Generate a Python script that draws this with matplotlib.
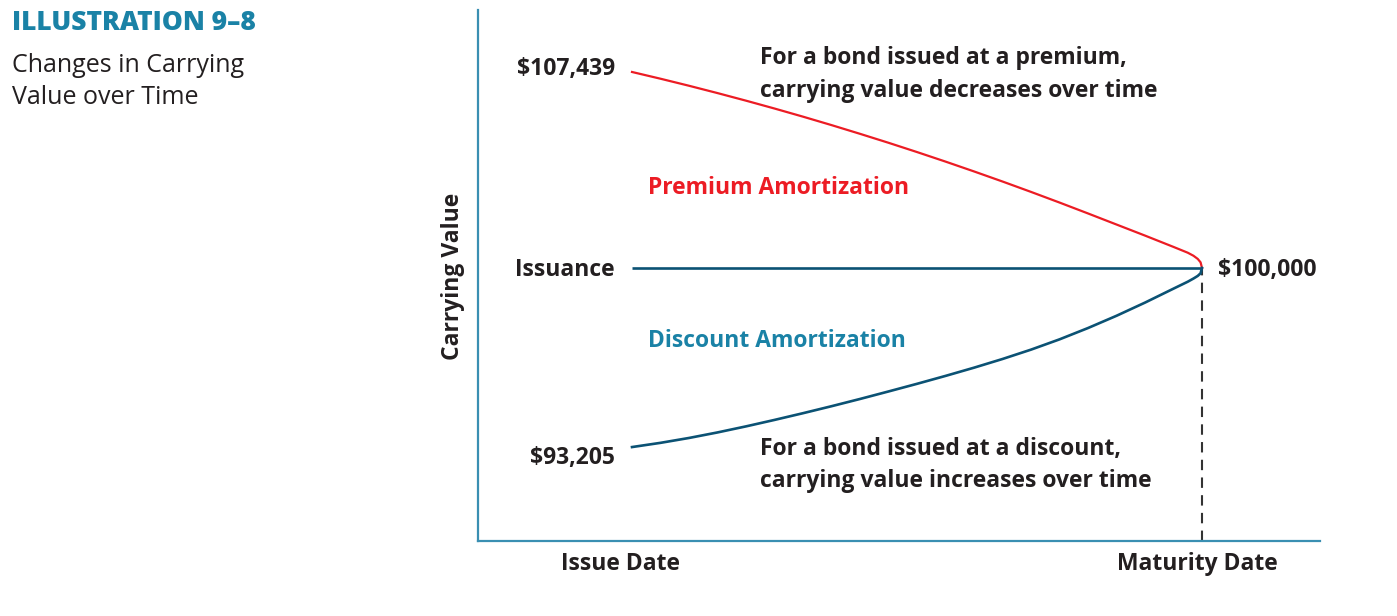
import matplotlib.pyplot as plt
from matplotlib.transforms import blended_transform_factory

# semiannual periods from issue (0) to maturity (20)
periods = [0, 1, 2, 3, 4, 5, 6, 7, 8, 9, 10, 11, 12, 13, 14, 15, 16, 17, 18, 19,
           19.5, 19.7, 19.85, 19.95, 20]
premium_cv = [107439, 107183, 106916, 106638, 106350, 106052, 105743, 105423, 105092,
              104752, 104400, 104038, 103665, 103282, 102888, 102484, 102070, 101650,
              101230, 100800, 100580, 100465, 100345, 100215, 100000]
discount_cv = [93205, 93365, 93550, 93760, 93990, 94235, 94490, 94755, 95030, 95315,
               95605, 95905, 96217, 96547, 96902, 97292, 97722, 98187, 98687, 99217,
               99480, 99600, 99700, 99800, 100000]
face_value = 100000
issue_labels = ["$107,439", "Issuance", "$93,205"]
x_labels = ["Issue Date", "Maturity Date"]

RED = "#ec1c24"
DARK_BLUE = "#0b5274"
TEAL = "#1a82a6"
INK = "#231f20"
FONT = "Open Sans"
FS = 16.5

plt.rcParams["font.family"] = [FONT, "DejaVu Sans"]

fig = plt.figure(figsize=(13.97, 6.16), dpi=100)
ax = fig.add_axes([478 / 1397, 75 / 616, 842 / 1397, 531 / 616])
ax.set_xlim(-5.404, 24.14)
ax.set_ylim(89640, 109791)

for s in ["top", "right"]:
    ax.spines[s].set_visible(False)
for s in ["left", "bottom"]:
    ax.spines[s].set_color("#3a8fb2")
    ax.spines[s].set_linewidth(1.6)
ax.set_xticks([])
ax.set_yticks([])

# lines
ax.plot([periods[0], periods[-1]], [face_value, face_value], color=DARK_BLUE, lw=1.9,
        solid_capstyle="butt", zorder=2)
ax.plot(periods, premium_cv, color=RED, lw=1.6, zorder=3)
ax.plot(periods, discount_cv, color=DARK_BLUE, lw=1.9, zorder=3)
ax.plot([periods[-1], periods[-1]], [89640, face_value], color="#333333", lw=1.5,
        ls=(0, (5, 3.5)), zorder=1)

# value labels at issue
lab_y = [premium_cv[0] + 100, face_value - 60, discount_cv[0] - 430]
for t, y in zip(issue_labels, lab_y):
    ax.text(-0.6, y, t, ha="right", va="center", fontsize=FS, fontweight="bold", color=INK)
ax.text(20.56, face_value - 60, "$100,000", ha="left", va="center", fontsize=FS,
        fontweight="bold", color=INK)

ax.text(0.56, 103050, "Premium Amortization", ha="left", va="center", fontsize=FS,
        fontweight="bold", color=RED)
ax.text(0.56, 97240, "Discount Amortization", ha="left", va="center", fontsize=FS,
        fontweight="bold", color=TEAL)

ax.text(4.49, 107980, "For a bond issued at a premium,", ha="left", va="center",
        fontsize=FS, fontweight="bold", color=INK)
ax.text(4.49, 106730, "carrying value decreases over time", ha="left", va="center",
        fontsize=FS, fontweight="bold", color=INK)
ax.text(4.49, 93150, "For a bond issued at a discount,", ha="left", va="center",
        fontsize=FS, fontweight="bold", color=INK)
ax.text(4.49, 91900, "carrying value increases over time", ha="left", va="center",
        fontsize=FS, fontweight="bold", color=INK)

# x labels under the axis
trans = blended_transform_factory(ax.transData, ax.transAxes)
for xp, t in zip([-0.39, 19.82], x_labels):
    ax.text(xp, -0.043, t, transform=trans, ha="center", va="center", fontsize=FS,
            fontweight="bold", color=INK)

fig.text(453 / 1397, 1 - 276 / 616, "Carrying Value", rotation=90, ha="center",
         va="center", fontsize=FS, fontweight="bold", color=INK)

# side title
fig.text(12 / 1397, 1 - 23 / 616, "ILLUSTRATION 9\u20138", ha="left", va="center",
         fontsize=19, fontweight="heavy", color=TEAL)
fig.text(12 / 1397, 1 - 66 / 616, "Changes in Carrying", ha="left", va="center",
         fontsize=18, color=INK)
fig.text(12 / 1397, 1 - 98 / 616, "Value over Time", ha="left", va="center",
         fontsize=18, color=INK)

fig.savefig("out.png", dpi=100)
